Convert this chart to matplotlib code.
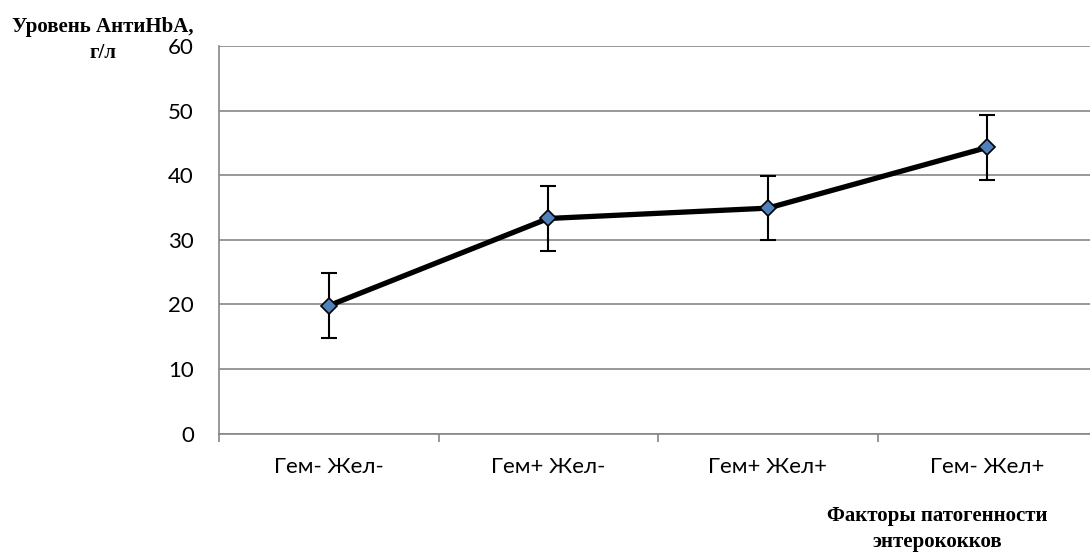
import matplotlib.pyplot as plt
from matplotlib.ticker import FixedLocator

categories = ['Гем- Жел-', 'Гем+ Жел-', 'Гем+ Жел+', 'Гем- Жел+']
values = [19.8, 33.3, 34.9, 44.3]
errors = [5.0, 5.0, 5.0, 5.0]
yticks = [0, 10, 20, 30, 40, 50, 60]

fig = plt.figure(figsize=(10.9, 5.52), dpi=100)
ax = fig.add_axes([219 / 1090, 1 - 433.6 / 552, 878 / 1090, 387.6 / 552])

x = list(range(len(categories)))
ax.errorbar(x, values, yerr=errors, fmt='none', ecolor='black',
            elinewidth=1.5, capsize=6, capthick=1.5, zorder=3)
ax.plot(x, values, color='black', linewidth=3.8, zorder=4)
ax.plot(x, values, linestyle='none', marker='D', markersize=8,
        markerfacecolor='#4F81BD', markeredgecolor='black',
        markeredgewidth=1.2, zorder=5)

ax.set_xlim(-0.5, len(categories) - 0.5)
ax.set_ylim(0, 60)
ax.set_yticks(yticks)
ax.set_xticks(x)
ax.set_xticklabels(categories)
ax.xaxis.set_minor_locator(FixedLocator([i - 0.5 for i in range(len(categories) + 1)]))

for sp in ['top', 'right']:
    ax.spines[sp].set_visible(False)
for sp in ['left', 'bottom']:
    ax.spines[sp].set_color('#868686')
    ax.spines[sp].set_linewidth(1.2)

ax.yaxis.grid(True, color='#868686', linewidth=1.2)
ax.set_axisbelow(True)

ax.tick_params(axis='y', length=0, pad=18, labelsize=16)
ax.tick_params(axis='x', which='major', length=0, pad=17, labelsize=16)
ax.tick_params(axis='x', which='minor', length=6, width=1.2, color='#868686')
for lab in ax.get_xticklabels() + ax.get_yticklabels():
    lab.set_family('Lato')

fig.text(103 / 1090, 1 - 40 / 552, 'Уровень АнтиHbA,\nг/л', ha='center', va='center',
         family='Liberation Serif', fontweight='bold', fontsize=15, linespacing=1.35)
fig.text(937 / 1090, 1 - 529 / 552, 'Факторы патогенности\nэнтерококков', ha='center', va='center',
         family='Liberation Serif', fontweight='bold', fontsize=15, linespacing=1.35)

fig.savefig('out.png', dpi=100)
